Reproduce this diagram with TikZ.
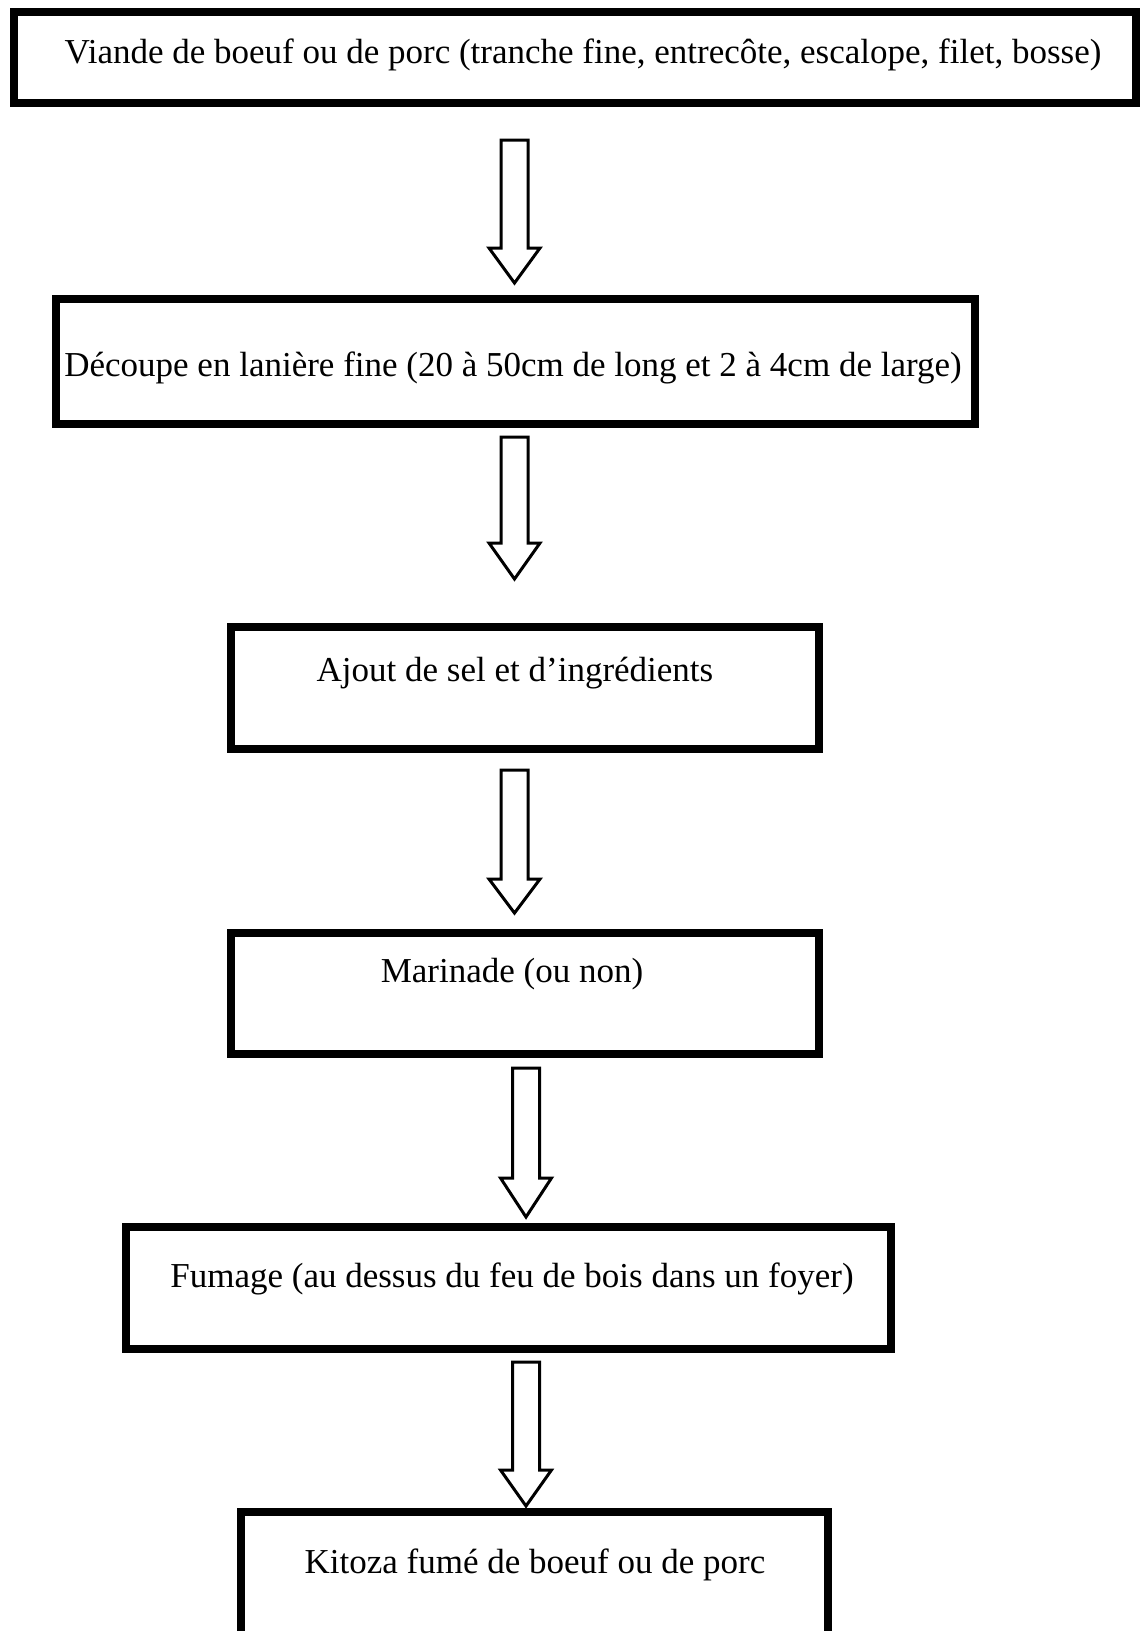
\documentclass[tikz,border=0pt]{standalone}
\usepackage{fontspec}
\setmainfont{Liberation Serif}
\newcommand\blockarr[5]{%
  \coordinate (#1s) at (#2,#3);
  \coordinate (#1t) at (#2,#5);
  \draw[barrow] ({#2-13.5},#3) -- ({#2+13.5},#3) -- ({#2+13.5},#4) -- ({#2+25.5},#4)
     -- (#1t) -- ({#2-25.5},#4) -- ({#2-13.5},#4) -- cycle;}
\begin{document}
\begin{tikzpicture}[x=1pt,y=-1pt,
  box/.style={draw,line width=8pt,inner sep=0pt},
  lbl/.style={font=\fontsize{35}{40}\selectfont,anchor=base,inner sep=0pt},
  barrow/.style={draw,line width=3pt,line join=miter,fill=white}]
\useasboundingbox (0,0) rectangle (1143,1631);
\clip (0,0) rectangle (1143,1631);
% boxes
\node[box,minimum width=1122pt,minimum height=91pt] (b1) at (575,57) {};
\node[box,minimum width=919pt,minimum height=125pt] (b2) at (515.5,361.5) {};
\node[box,minimum width=588pt,minimum height=122pt] (b3) at (525,688) {};
\node[box,minimum width=588pt,minimum height=121pt] (b4) at (525,993.5) {};
\node[box,minimum width=765pt,minimum height=122pt] (b5) at (508.5,1288) {};
\node[box,minimum width=587pt,minimum height=148pt] (b6) at (534.5,1586) {};
% labels
\node[lbl] (t1) at (583,63) {Viande de boeuf ou de porc (tranche fine, entrecôte, escalope, filet, bosse)};
\node[lbl] (t2) at (513,376) {Découpe en lanière fine (20 à 50cm de long et 2 à 4cm de large)};
\node[lbl] (t3) at (515,681) {Ajout de sel et d'ingrédients};
\node[lbl] (t4) at (512,982) {Marinade (ou non)};
\node[lbl] (t5) at (512,1287) {Fumage (au dessus du feu de bois dans un foyer)};
\node[lbl] (t6) at (535,1573) {Kitoza fumé de boeuf ou de porc};
% block arrows
\blockarr{a1}{514.5}{140}{248}{283}
\blockarr{a2}{514.5}{437}{543}{579}
\blockarr{a3}{514.5}{770}{879}{913}
\blockarr{a4}{526}{1068}{1178}{1217}
\blockarr{a5}{526}{1362}{1470}{1506}
\end{tikzpicture}
\end{document}
